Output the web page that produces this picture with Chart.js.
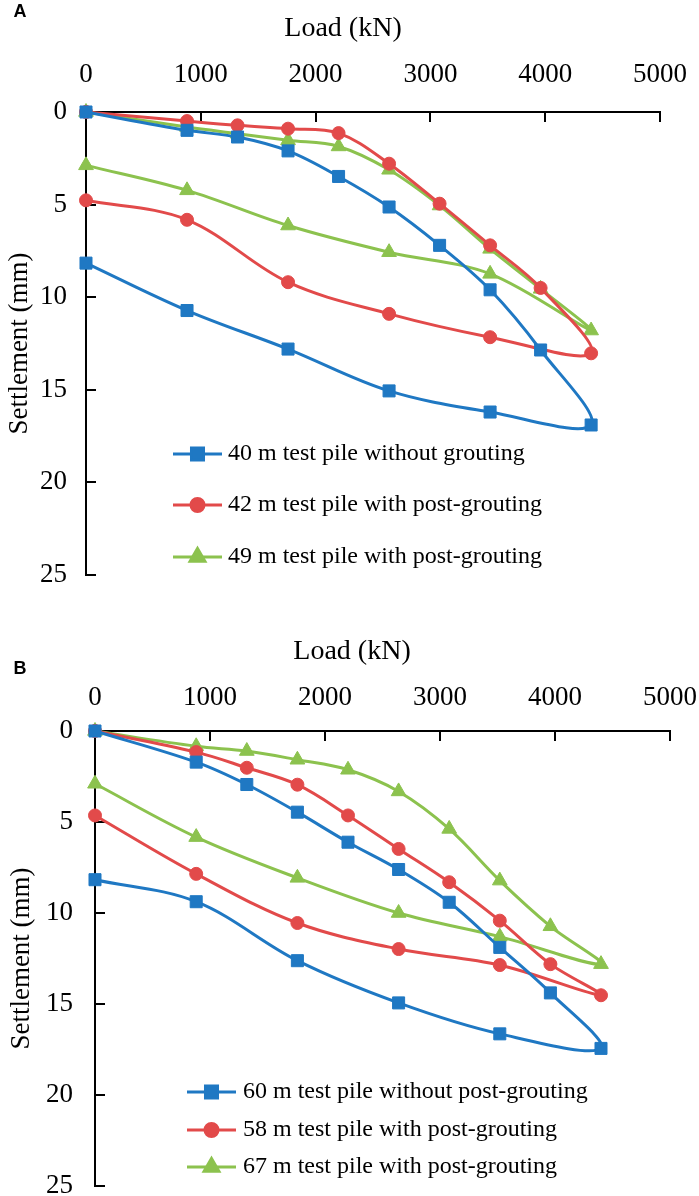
<!DOCTYPE html>
<html>
<head>
<meta charset="utf-8">
<script src="https://cdn.jsdelivr.net/npm/chart.js@4.4.1/dist/chart.umd.min.js"></script>
<style>
    html, body { margin: 0; padding: 0; background: #ffffff; }
    body { width: 699px; height: 1196px; position: relative; overflow: hidden; }
    .panel { position: absolute; left: 0; width: 699px; }
    #panel-a { top: 0; height: 590px; }
    #panel-b { top: 590px; height: 606px; }
</style>
</head>
<body>
<div class="panel" id="panel-a"><canvas id="chart-a"></canvas></div>
<div class="panel" id="panel-b"><canvas id="chart-b"></canvas></div>
<script>
// Load steps (kN): loading branch, then unloading branch
const loadSteps = [0, 880, 1320, 1760, 2200, 2640, 3080, 3520, 3960, 4400];
const unloadSteps = [3520, 2640, 1760, 880, 0];

// Axis ticks
const loadTicks = [0, 1000, 2000, 3000, 4000, 5000];
const settlementTicks = [0, 5, 10, 15, 20, 25];

// Panel A settlements (mm)
const a40Loading = [0, 0.99, 1.35, 2.1, 3.48, 5.13, 7.2, 9.6, 12.85, 16.9];
const a40Unloading = [16.2, 15.06, 12.8, 10.72, 8.16];
const a42Loading = [0, 0.49, 0.72, 0.9, 1.14, 2.79, 4.95, 7.2, 9.5, 13.03];
const a42Unloading = [12.16, 10.9, 9.19, 5.82, 4.77];
const a49Loading = [0, 0.81, 1.17, 1.53, 1.86, 3.12, 5.05, 7.39, 9.55, 11.8];
const a49Unloading = [8.74, 7.57, 6.13, 4.23, 2.88];
const legendA = [
    '40 m test pile without grouting',
    '42 m test pile with post-grouting',
    '49 m test pile with post-grouting'
];

// Panel B settlements (mm)
const b60Loading = [0, 1.71, 2.94, 4.46, 6.11, 7.61, 9.41, 11.89, 14.39, 17.44];
const b60Unloading = [16.64, 14.94, 12.62, 9.38, 8.17];
const b58Loading = [0, 1.16, 2.02, 2.95, 4.64, 6.48, 8.31, 10.42, 12.81, 14.52];
const b58Unloading = [12.86, 11.98, 10.55, 7.85, 4.64];
const b67Loading = [0, 0.84, 1.1, 1.58, 2.13, 3.32, 5.38, 8.22, 10.73, 12.81];
const b67Unloading = [11.3, 10.0, 8.07, 5.83, 2.9];
const legendB = [
    '60 m test pile without post-grouting',
    '58 m test pile with post-grouting',
    '67 m test pile with post-grouting'
];

const SERIF = "'Liberation Serif', 'Times New Roman', serif";
const seriesStyles = [
    { color: '#1f78c3', pointStyle: 'rect', pointRadius: 8.5 },
    { color: '#e24a4a', pointStyle: 'circle', pointRadius: 6.5 },
    { color: '#8cc24e', pointStyle: 'triangle', pointRadius: 8.5 }
];

Chart.defaults.font.family = SERIF;
Chart.defaults.color = '#000';

// Join loading and unloading into one loop path
function toPoints(loading, unloading) {
    const up = loadSteps.map((x, i) => ({ x: x, y: loading[i] }));
    const down = unloadSteps.map((x, i) => ({ x: x, y: unloading[i] }));
    return up.concat(down);
}

function buildDataset(label, points, style) {
    return {
        label: label,
        data: points,
        showLine: true,
        tension: 0.35,
        borderColor: style.color,
        backgroundColor: style.color,
        borderWidth: 3,
        pointStyle: style.pointStyle,
        pointRadius: style.pointRadius,
        pointBackgroundColor: style.color,
        pointBorderColor: style.color,
        pointBorderWidth: 1,
        clip: false
    };
}

// Inward tick marks, x title, panel letter and legend
const panelDecor = {
    id: 'panelDecor',
    beforeDatasetsDraw(chart, args, opts) {
        const { ctx, chartArea, scales } = chart;
        ctx.save();
        ctx.strokeStyle = '#000';
        ctx.lineWidth = 2;
        ctx.beginPath();
        scales.x.ticks.forEach(t => {
            if (t.value === 0) return;
            const px = Math.round(scales.x.getPixelForValue(t.value));
            ctx.moveTo(px, chartArea.top);
            ctx.lineTo(px, chartArea.top + opts.tickLen);
        });
        scales.y.ticks.forEach(t => {
            if (t.value === 0) return;
            const py = Math.round(scales.y.getPixelForValue(t.value));
            ctx.moveTo(chartArea.left, py);
            ctx.lineTo(chartArea.left + opts.tickLen, py);
        });
        ctx.stroke();
        ctx.restore();
    },
    afterDraw(chart, args, opts) {
        const ctx = chart.ctx;
        ctx.save();
        ctx.fillStyle = '#000';
        ctx.textBaseline = 'middle';
        ctx.textAlign = 'center';

        ctx.font = "bold 18px 'Liberation Sans', Arial, sans-serif";
        ctx.fillText(opts.letter, opts.letterX, opts.letterY);

        ctx.font = '28px ' + SERIF;
        ctx.fillText('Load (kN)', opts.titleX, opts.titleY);

        ctx.font = '24px ' + SERIF;
        ctx.textAlign = 'left';
        chart.data.datasets.forEach((ds, i) => {
            const y = opts.legendY[i];
            ctx.strokeStyle = ds.borderColor;
            ctx.lineWidth = 3;
            ctx.beginPath();
            ctx.moveTo(opts.legendX, y);
            ctx.lineTo(opts.legendX + opts.legendLine, y);
            ctx.stroke();
            ctx.fillStyle = ds.borderColor;
            Chart.helpers.drawPoint(ctx, {
                pointStyle: ds.pointStyle,
                radius: ds.pointRadius,
                rotation: 0,
                borderWidth: 1
            }, opts.legendX + opts.legendLine / 2, y);
            ctx.fillStyle = '#000';
            ctx.fillText(ds.label, opts.legendTextX, y);
        });
        ctx.restore();
    }
};

// Create one load-settlement panel
function createPanel(canvasId, labels, series, layout) {
    const ctx = document.getElementById(canvasId);
    if (!ctx) return null;

    return new Chart(ctx, {
        type: 'scatter',
        data: {
            datasets: series.map((pts, i) => buildDataset(labels[i], pts, seriesStyles[i]))
        },
        options: {
            responsive: true,
            maintainAspectRatio: false,
            animation: false,
            layout: {
                padding: { left: 0, top: 0, right: layout.padRight, bottom: layout.padBottom }
            },
            plugins: {
                legend: { display: false },
                tooltip: { enabled: false },
                panelDecor: layout.decor
            },
            scales: {
                x: {
                    type: 'linear',
                    position: 'top',
                    min: 0,
                    max: 5000,
                    afterBuildTicks: s => { s.ticks = loadTicks.map(v => ({ value: v })); },
                    afterFit: s => { s.height = layout.top; s.paddingLeft = 0; s.paddingRight = 0; },
                    grid: { display: false, drawTicks: false },
                    border: { display: true, color: '#000', width: 2 },
                    ticks: {
                        font: { size: 27 },
                        color: '#000',
                        padding: layout.xTickPad,
                        maxRotation: 0,
                        autoSkip: false,
                        callback: value => String(value)
                    }
                },
                y: {
                    type: 'linear',
                    reverse: true,
                    min: 0,
                    max: 25,
                    afterBuildTicks: s => { s.ticks = settlementTicks.map(v => ({ value: v })); },
                    afterFit: s => { s.width = layout.left; s.paddingTop = 0; s.paddingBottom = 0; },
                    grid: { display: false, drawTicks: false },
                    border: { display: true, color: '#000', width: 2 },
                    ticks: {
                        font: { size: 27 },
                        color: '#000',
                        padding: layout.yTickPad,
                        autoSkip: false,
                        callback: value => String(value)
                    },
                    title: {
                        display: true,
                        text: 'Settlement (mm)',
                        font: { size: 27 },
                        color: '#000',
                        padding: { top: layout.yTitlePad, bottom: 0 }
                    }
                }
            }
        },
        plugins: [panelDecor]
    });
}

window.chartA = createPanel('chart-a', legendA, [
    toPoints(a40Loading, a40Unloading),
    toPoints(a42Loading, a42Unloading),
    toPoints(a49Loading, a49Unloading)
], {
    left: 86, top: 112, padRight: 39, padBottom: 15,
    xTickPad: 21, yTickPad: 19, yTitlePad: 4,
    decor: {
        tickLen: 10, letter: 'A', letterX: 20, letterY: 12,
        titleX: 343, titleY: 29,
        legendX: 173, legendLine: 49, legendTextX: 228, legendY: [454, 505, 557]
    }
});

window.chartB = createPanel('chart-b', legendB, [
    toPoints(b60Loading, b60Unloading),
    toPoints(b58Loading, b58Unloading),
    toPoints(b67Loading, b67Unloading)
], {
    left: 95, top: 141, padRight: 29, padBottom: 10,
    xTickPad: 17, yTickPad: 22, yTitlePad: 6,
    decor: {
        tickLen: 10, letter: 'B', letterX: 20, letterY: 79,
        titleX: 352, titleY: 62,
        legendX: 187, legendLine: 49, legendTextX: 243, legendY: [502, 540, 577]
    }
});
</script>
</body>
</html>
